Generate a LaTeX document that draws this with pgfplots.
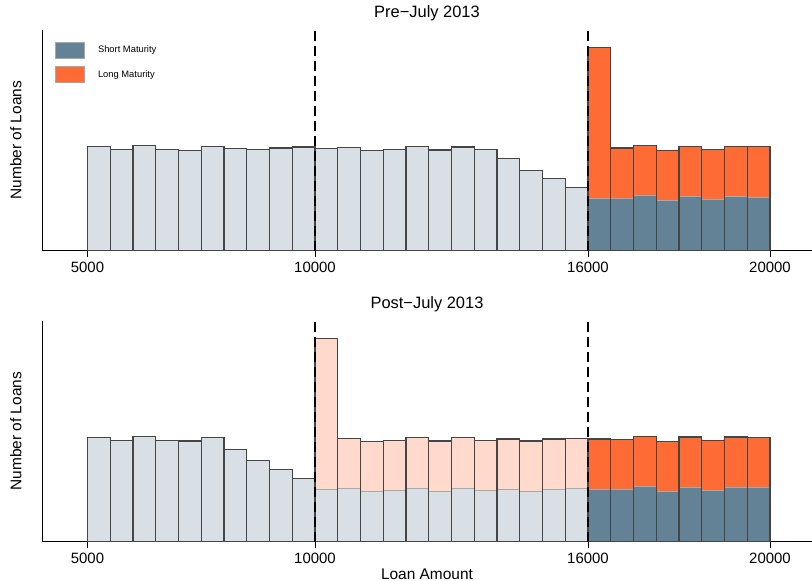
\documentclass[border=0pt]{standalone}
\usepackage{pgfplots}
\pgfplotsset{compat=1.18}
\usepackage{pgfplotstable}
\usepackage{fontspec}
\setmainfont{Liberation Sans}
\definecolor{cgray}{HTML}{D8DFE5}
\definecolor{cblue}{HTML}{638296}
\definecolor{corange}{HTML}{FF6B35}
\definecolor{csalmon}{HTML}{FFD9CC}
\definecolor{cedge}{HTML}{454545}
\definecolor{csplit}{HTML}{A8A8A8}

% Pre-July 2013: single-colour bins below 16000
\pgfplotstableread{
x y
5250 104
5750 101
6250 105
6750 101
7250 100.4
7750 104
8250 102
8750 101
9250 102.7
9750 103.7
10250 102
10750 103.4
11250 100.4
11750 101.4
12250 104
12750 100.7
13250 103.7
13750 101
14250 92.4
14750 80.4
15250 72
15750 63
}\topgray
% Pre-July 2013: short / total at or above 16000
\pgfplotstableread{
x s t
16250 52.4 203
16750 52.4 102.7
17250 54.7 105
17750 50 100.4
18250 54 104.4
18750 51 101.4
19250 54 104.4
19750 53.4 104
}\topstack
% Post-July 2013
\pgfplotstableread{
x y
5250 104.3
5750 101.3
6250 105.3
6750 101.3
7250 100.7
7750 104.3
8250 92.3
8750 81
9250 72.3
9750 63.3
}\botgray
\pgfplotstableread{
x s t
10250 51.7 203.3
10750 52.7 103.3
11250 50 100.3
11750 51 101.3
12250 53.3 104
12750 50.3 100.7
13250 53 104
13750 50.7 101.3
14250 52 102.7
14750 50.3 100.7
15250 51.7 102.7
15750 52.7 103.3
}\botlight
\pgfplotstableread{
x s t
16250 52 102.7
16750 52 102.3
17250 54.7 105.3
17750 50 100.3
18250 54 104.7
18750 51 101.3
19250 54 104.7
19750 53.7 104
}\botdark

\pgfplotsset{
  panel/.style={
    anchor=south west, scale only axis, width=770bp, height=221bp,
    xmin=4000, xmax=20923, ymin=0, ymax=221,
    axis x line*=bottom, axis y line*=left,
    axis line style={line width=1bp, black, -},
    scaled x ticks=false, scaled y ticks=false,
    xtick={5000,10000,16000,20000},
    xticklabels={5000,10000,16000,20000},
    ytick=\empty,
    tick align=outside, major tick length=6bp,
    tick style={black, line width=1bp},
    xticklabel style={font=\fontsize{15}{15}\selectfont, anchor=base, yshift=-15.5bp},
    ylabel={Number of Loans},
    ylabel style={at={(axis description cs:-0.0338,0.5)}, anchor=center, font=\fontsize{15.5}{15.5}\selectfont},
    title style={at={(axis description cs:0.5,1)}, anchor=base, yshift=6bp, font=\fontsize{16.5}{16.5}\selectfont},
  },
  barbase/.style={ybar, bar width=500, bar shift=0pt, forget plot},
  vline/.style={black, line width=1.2bp, dash pattern=on 10bp off 5bp, forget plot},
  legbox/.style={legend image code/.code={\draw[##1] (0bp,-8bp) rectangle (29bp,8bp);}},
}

\begin{document}
\begin{tikzpicture}
\path[use as bounding box] (0,0) rectangle (812bp,581bp);

\begin{axis}[panel, at={(42bp,330.3bp)}, title={Pre\char"2212 July 2013},
  legend style={at={(axis description cs:0.0169,0.947)}, anchor=north west,
    draw=none, fill=none, font=\fontsize{9.4}{9.4}\selectfont,
    row sep=8bp, column sep=13bp, inner sep=0pt, nodes={inner sep=0pt}},
  legend cell align=left]
\addlegendimage{legbox, fill=cblue, draw=csplit, line width=0.8bp}
\addlegendentry{Short Maturity}
\addlegendimage{legbox, fill=corange, draw=csplit, line width=0.8bp}
\addlegendentry{Long Maturity}
\addplot[barbase, fill=cgray, draw=cedge, line width=1.1bp] table[x=x,y=y] {\topgray};
\addplot[barbase, fill=corange, draw=none] table[x=x,y=t] {\topstack};
\addplot[barbase, fill=cblue, draw=csplit, line width=1bp] table[x=x,y=s] {\topstack};
\addplot[barbase, fill=none, draw=cedge, line width=1.1bp] table[x=x,y=t] {\topstack};
\addplot[vline] coordinates {(10000,0) (10000,221)};
\addplot[vline] coordinates {(16000,0) (16000,221)};
\end{axis}

\begin{axis}[panel, at={(42bp,39.3bp)}, title={Post\char"2212 July 2013},
  xlabel={Loan Amount},
  xlabel style={at={(axis description cs:0.5,0)}, anchor=base, yshift=-37.5bp, font=\fontsize{15.5}{15.5}\selectfont}]
\addplot[barbase, fill=cgray, draw=cedge, line width=1.1bp] table[x=x,y=y] {\botgray};
\addplot[barbase, fill=csalmon, draw=none] table[x=x,y=t] {\botlight};
\addplot[barbase, fill=cgray, draw=csplit, line width=1bp] table[x=x,y=s] {\botlight};
\addplot[barbase, fill=none, draw=cedge, line width=1.1bp] table[x=x,y=t] {\botlight};
\addplot[barbase, fill=corange, draw=none] table[x=x,y=t] {\botdark};
\addplot[barbase, fill=cblue, draw=csplit, line width=1bp] table[x=x,y=s] {\botdark};
\addplot[barbase, fill=none, draw=cedge, line width=1.1bp] table[x=x,y=t] {\botdark};
\addplot[vline] coordinates {(10000,0) (10000,221)};
\addplot[vline] coordinates {(16000,0) (16000,221)};
\end{axis}
\end{tikzpicture}
\end{document}
